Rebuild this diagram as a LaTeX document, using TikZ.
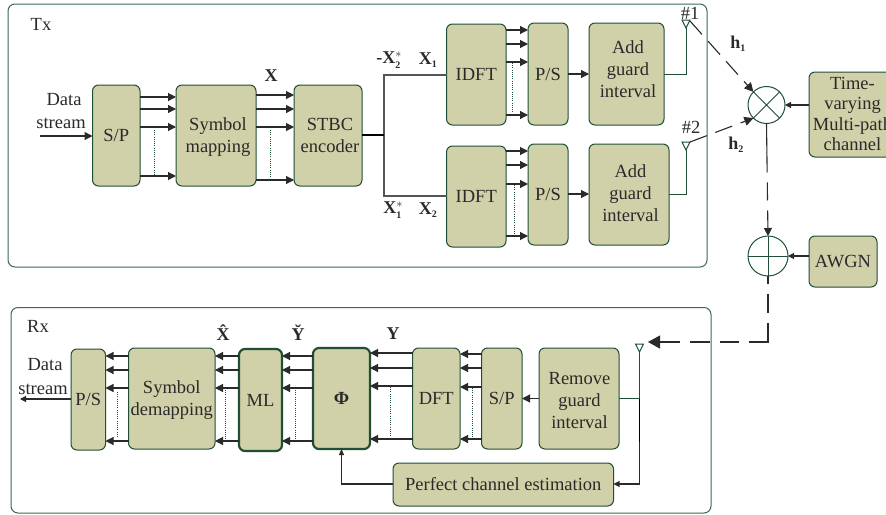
\documentclass[tikz,border=0pt]{standalone}
\usepackage{fontspec}
\setmainfont{Liberation Serif}
\usetikzlibrary{arrows.meta}
\definecolor{boxfill}{HTML}{D0D0A9}
\definecolor{boxline}{HTML}{1F4F35}
\definecolor{frameline}{HTML}{3A6B52}
\definecolor{ink}{HTML}{2A2A2A}
\newlength\txr
\newcommand\tx[3]{\setlength\txr{#2pt}\addtolength\txr{-5.5pt}\raisebox{\txr}[0pt][0pt]{\makebox[0pt]{\hspace{#1pt}\begin{tabular}{@{}c@{}}#3\end{tabular}}}}
\newcommand\bxn[7][]{\node[blk,#1,minimum width={(#5-#3)*1pt},minimum height={(#6-#4)*1pt}] (#2) at ({(#3+#5)/2},{(#4+#6)/2}) {#7};}
\newcommand\sub[1]{$_{\mbox{\fontsize{10}{10}\selectfont\textbf{#1}}}$}
\newcommand\subsup[1]{$^{*}_{\mbox{\fontsize{10}{10}\selectfont\textbf{#1}}}$}
\tikzset{
  x=1pt,y=-1pt,
  every node/.style={font=\fontsize{18.5}{22}\selectfont,text=ink,inner sep=0pt,outer sep=0pt},
  blk/.style={draw=boxline,fill=boxfill,line width=1pt,rounded corners=6pt},
  thickblk/.style={line width=2.2pt},
  frame/.style={draw=frameline,line width=1pt,rounded corners=7pt},
  conn/.style={draw=ink,line width=1.1pt},
  thinconn/.style={draw=ink!80,line width=1.3pt},
  gline/.style={draw=boxline,line width=1pt},
  arr/.style={conn,-{Triangle[length=8pt,width=8pt]}},
  arrs/.style={conn,-{Triangle[length=6pt,width=6pt]}},
  dashy/.style={conn,dash pattern=on 18pt off 9pt},
  dots/.style={draw=boxline,line width=.8pt,dash pattern=on 1pt off 1.2pt},
  ant/.style={draw=boxline,fill=white,line width=1pt},
  lab/.style={font=\fontsize{18}{18}\selectfont\bfseries},
}
\begin{document}
\begin{tikzpicture}
\useasboundingbox (0,0) rectangle (886,514);
\clip (0,0) rectangle (886,514);
\fill[white] (0,0) rectangle (886,514);
\draw[frame] (8,4) rectangle (707,267);
\draw[frame] (11,307.5) rectangle (711,513);
\node (txl) at (41,24) {Tx};
\node (rxl) at (38,326) {Rx};

% Tx boxes
\bxn{sp}{92.5}{85}{140}{186}{S/P}
\bxn{map}{176}{85}{256}{186}{\tx{4}{0}{Symbol\\mapping}}
\bxn{stbc}{294}{85}{362}{186}{\tx{4}{0}{STBC\\encoder}}
\bxn{idfta}{446.5}{24}{506}{125}{IDFT}
\bxn{psa}{528}{23}{568}{125}{P/S}
\bxn{adda}{589}{23}{664}{125}{\tx{3}{4}{Add\\guard\\interval}}
\bxn{idftb}{446.5}{146}{506}{247}{IDFT}
\bxn{psb}{528}{144}{568}{245}{P/S}
\bxn{addb}{589}{144}{669}{245}{\tx{3}{1}{Add\\guard\\interval}}
\bxn{chan}{809}{72}{892}{157}{\tx{4}{0}{Time-\\[-1.5pt]varying\\[-1.5pt]Multi-path\\[-1.5pt]channel}}
\bxn{awgn}{809}{236}{877}{287}{AWGN}

\node[draw=boxline,line width=1pt,circle,fill=white,minimum size=37pt] (mul) at (766.5,105) {};
\draw[gline] (mul.north west) -- (mul.south east) (mul.north east) -- (mul.south west);
\node[draw=boxline,line width=1pt,circle,fill=white,minimum size=40pt] (add) at (768,256) {};
\draw[gline] (add.north) -- (add.south) (add.west) -- (add.east);

% Rx boxes
\bxn{pso}{71}{349}{105.5}{450}{P/S}
\bxn{dem}{128.5}{348}{215}{449}{\tx{0}{0}{Symbol\\demapping}}
\bxn[thickblk]{ml}{239}{349}{282}{451}{ML}
\bxn[thickblk]{phi}{313}{348}{370}{449}{\textbf{Φ}}
\bxn{dft}{412.5}{348}{460}{449}{DFT}
\bxn{spr}{481.5}{348}{522}{449}{S/P}
\bxn{rem}{539}{348}{619}{449}{\tx{1}{-2}{Remove\\guard\\interval}}
\bxn{pce}{393}{463}{613.5}{506}{Perfect channel estimation}

% Tx data stream
\coordinate (din) at (40,136);
\draw[arr] (din) -- (sp.west |- din);
\node (dsa) at (64,100) {Data};
\node (dsb) at (61,123) {stream};

% Parallel arrows
\foreach \y in {97,109,127,176} \draw[arr] (sp.east |- 0,\y) -- (map.west |- 0,\y);
\draw[dots] (154,130) -- (154,175);
\foreach \y in {95,109,127,180} \draw[arr] (map.east |- 0,\y) -- (stbc.west |- 0,\y);
\draw[dots] (270,130) -- (270,178);
\foreach \y in {30,44,62,115} \draw[arr] (idfta.east |- 0,\y) -- (psa.west |- 0,\y);
\draw[dots] (512,63) -- (512,114);
\foreach \y in {151,165,184,236} \draw[arr] (idftb.east |- 0,\y) -- (psb.west |- 0,\y);
\draw[dots] (514,185) -- (514,235);

% STBC split
\coordinate (split) at (384,135);
\draw[thinconn] (idfta.west |- 0,75) -- (384,75) -- (384,196) -- (idftb.west |- 0,196);
\draw[draw=black,line width=2pt] (stbc.east |- split) -- (split);

% P/S to guard
\draw[arr] (psa.east |- 0,74) -- (adda.west |- 0,74);
\draw[arr] (psb.east |- 0,194) -- (addb.west |- 0,194);

% antennas
\coordinate (anta) at (686,28);
\coordinate (antb) at (686,150);
\coordinate (antr) at (639.5,352);
\draw[gline] (adda.east |- 0,74) -| (anta);
\draw[gline] (addb.east |- 0,194) -| (antb);
\draw[ant] (anta) -- ++(-4,-8) -- ++(8,0) -- cycle;
\draw[ant] (antb) -- ++(-4,-8) -- ++(8,0) -- cycle;
\node (na) at (690,13) {\#1};
\node (nb) at (691,127) {\#2};

% channel
\draw[dashy,-{Triangle[length=9pt,width=9pt]}] (690,21) -- (mul.north west);
\draw[dashy,-{Triangle[length=9pt,width=9pt]}] (690,142) -- (mul.south west);
\draw[arrs] (chan.west |- mul) -- (mul.east);
\draw[arrs] (awgn.west |- add) -- (add.east);
\draw[conn,dash pattern=on 49pt off 10pt on 18pt off 10pt on 60pt,-{Triangle[length=8pt,width=8pt]}] (mul.south) -- (add.north);
\coordinate (corner) at (768,342);
\coordinate (rxin) at (648,342);
\draw[conn,dash pattern=on 8pt off 10pt on 19pt off 10pt on 38pt off 10pt on 19pt off 10pt on 20pt off 10pt on 40pt,-{Triangle[length=12pt,width=13pt]}] (add.south) -- (corner) -- (rxin);

% Rx
\draw[ant] (antr) -- ++(-4,-8) -- ++(8,0) -- cycle;
\coordinate (branch) at (639.5,398.5);
\coordinate (antfoot) at (639.5,484);
\draw[gline] (antr) -- (branch);
\draw[gline] (rem.east |- branch) -- (branch);
\draw[draw=black,line width=1.6pt] (branch) -- (639.5,442);
\draw[conn] (639.5,442) -- (antfoot);
\draw[arrs] (antfoot) -- (pce.east |- antfoot);
\draw[conn,-{Triangle[length=6pt,width=5pt]}] (pce.west |- antfoot) -- (phi.south |- antfoot) -- (phi.south);
\draw[arr] (rem.west |- branch) -- (spr.east |- branch);

\foreach \y in {354,368,387,439} \draw[arr] (spr.west |- 0,\y) -- (dft.east |- 0,\y);
\draw[dots] (472.7,388) -- (472.7,438);
\foreach \y in {353,368,386,439} \draw[arr] (dft.west |- 0,\y) -- (phi.east |- 0,\y);
\draw[dots] (390,387) -- (390,438);
\foreach \y in {356,370,388,441} \draw[arr] (phi.west |- 0,\y) -- (ml.east |- 0,\y);
\draw[dots] (295,390) -- (295,440);
\foreach \y in {356,370,388,441} \draw[arr] (ml.west |- 0,\y) -- (dem.east |- 0,\y);
\draw[dots] (225,390) -- (225,440);
\foreach \y in {356,370,388,441} \draw[arr] (dem.west |- 0,\y) -- (pso.east |- 0,\y);
\draw[dots] (117,392) -- (117,438);
\coordinate (dout) at (20,399);
\draw[conn,-{Triangle[length=6pt,width=6pt]}] (pso.west |- dout) -- (dout);
\node (dsc) at (45,365) {Data};
\node (dsd) at (43,389) {stream};

% Signal labels
\node[lab] (l1) at (271,76) {X};
\node[lab] (l2) at (389,60) {-X\subsup{2}};
\node[lab] (l3) at (428,60) {X\sub{1}};
\node[lab] (l4) at (393,210) {X\subsup{1}};
\node[lab] (l5) at (428,210) {X\sub{2}};
\node[lab] (l6) at (738,44) {h\sub{1}};
\node[lab] (l7) at (736,145) {h\sub{2}};
\node[lab] (l8) at (223,333) {\^{X}};
\node[lab] (l9) at (298,333) {\u{Y}};
\node[lab] (l10) at (393,334) {Y};
\end{tikzpicture}
\end{document}
